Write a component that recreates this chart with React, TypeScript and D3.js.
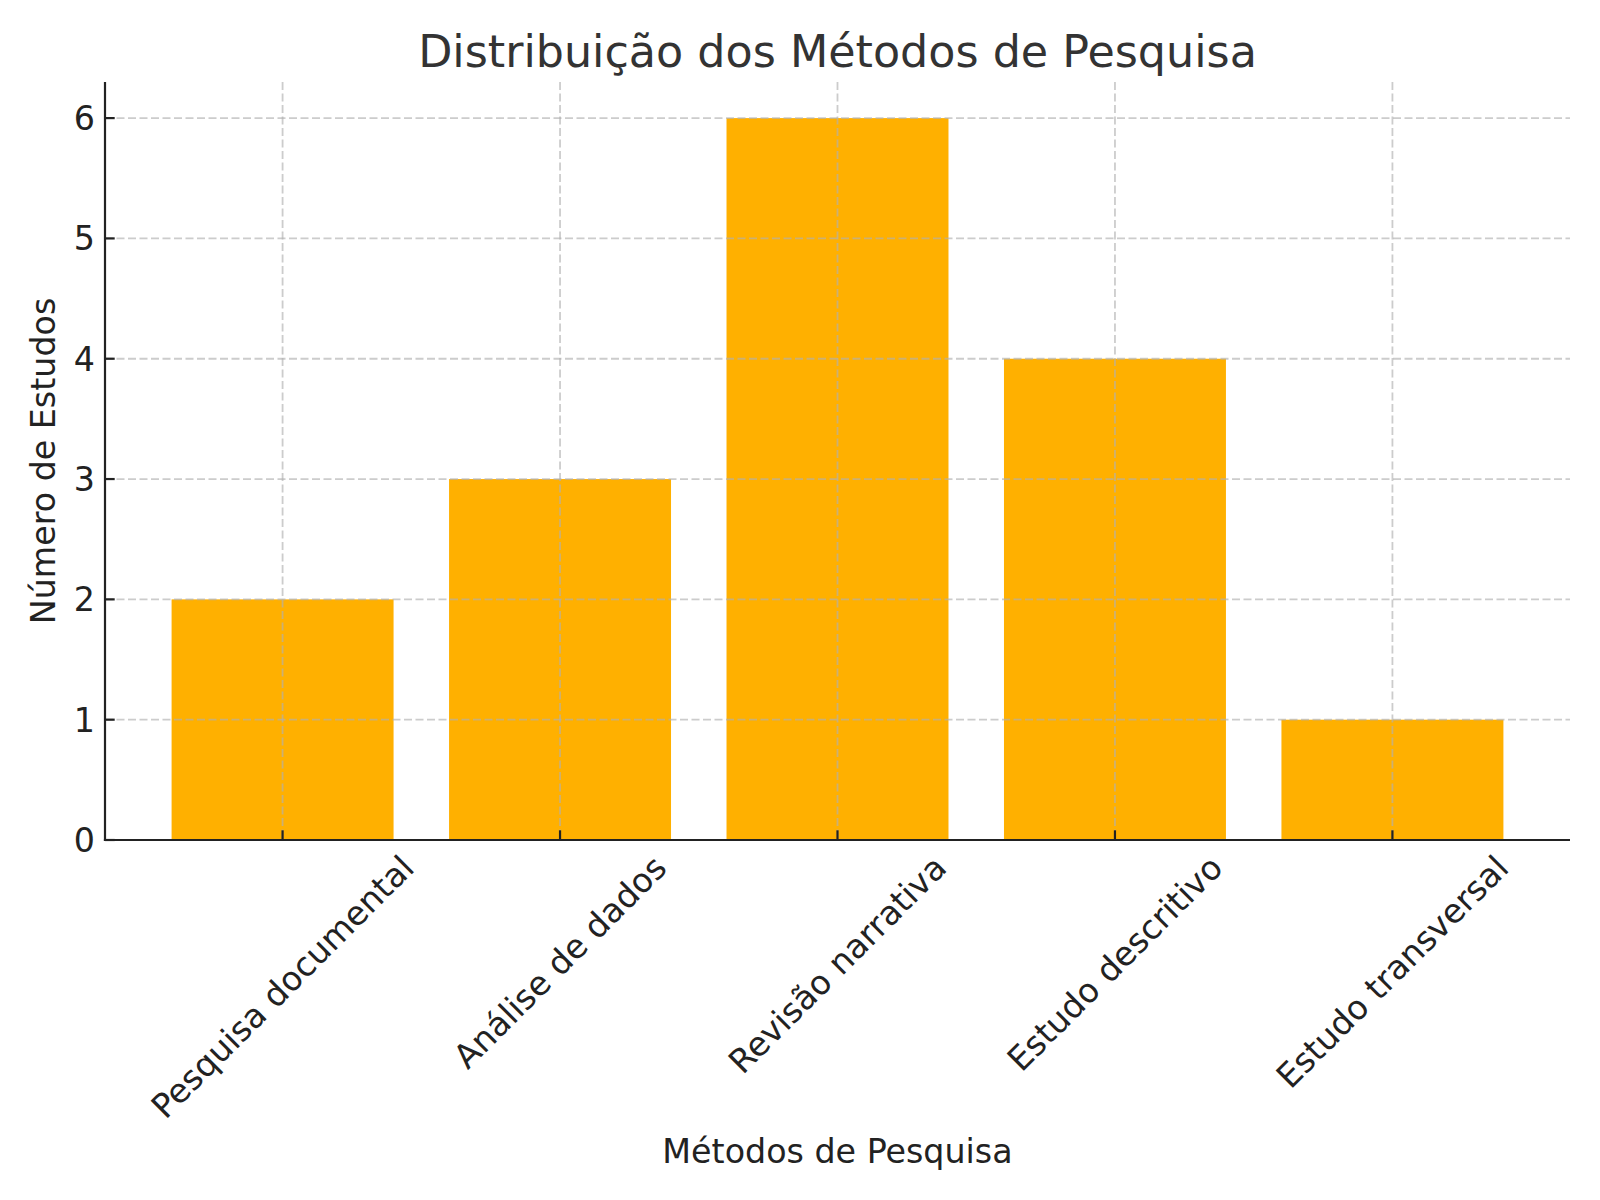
import React, { useEffect, useRef } from "react";
import * as d3 from "d3";

const categories: string[] = [
  "Pesquisa documental",
  "Análise de dados",
  "Revisão narrativa",
  "Estudo descritivo",
  "Estudo transversal",
];
const values: number[] = [2, 3, 6, 4, 1];
const yTicks: number[] = [0, 1, 2, 3, 4, 5, 6];
const titleText = "Distribuição dos Métodos de Pesquisa";
const xLabelText = "Métodos de Pesquisa";
const yLabelText = "Número de Estudos";

const W = 1600;
const H = 1200;
const left = 105;
const right = 1570;
const top = 82;
const bottom = 840;
const FONT = "'DejaVu Sans', sans-serif";

export default function App() {
  const ref = useRef<SVGSVGElement | null>(null);

  useEffect(() => {
    const svg = d3.select(ref.current);
    svg.selectAll("*").remove();

    const n = categories.length;
    const barW = 0.8;
    const span = n - 1 + barW;
    const x = d3
      .scaleLinear()
      .domain([-barW / 2 - 0.05 * span, n - 1 + barW / 2 + 0.05 * span])
      .range([left, right]);
    const yMax = d3.max(values)! * 1.05;
    const y = d3.scaleLinear().domain([0, yMax]).range([bottom, top]);

    svg.append("rect").attr("width", W).attr("height", H).attr("fill", "#fff");

    // bars
    svg
      .append("g")
      .selectAll("rect")
      .data(values)
      .join("rect")
      .attr("x", (_d, i) => x(i - barW / 2))
      .attr("width", (_d, i) => x(i + barW / 2) - x(i - barW / 2))
      .attr("y", (d) => y(d))
      .attr("height", (d) => y(0) - y(d))
      .attr("fill", "#ffb000");

    // grid
    const grid = svg.append("g").attr("stroke", "#b0b0b0").attr("stroke-opacity", 0.65)
      .attr("stroke-width", 1.8).attr("stroke-dasharray", "8,3.5");
    grid
      .selectAll("line.h")
      .data(yTicks)
      .join("line")
      .attr("class", "h")
      .attr("x1", left)
      .attr("x2", right)
      .attr("y1", (d) => y(d))
      .attr("y2", (d) => y(d));
    grid
      .selectAll("line.v")
      .data(categories)
      .join("line")
      .attr("class", "v")
      .attr("x1", (_d, i) => x(i))
      .attr("x2", (_d, i) => x(i))
      .attr("y1", top)
      .attr("y2", bottom);

    // ticks (inward)
    const tickLen = 9.7;
    const ticks = svg.append("g").attr("stroke", "#222").attr("stroke-width", 2.2);
    ticks
      .selectAll("line.yt")
      .data(yTicks)
      .join("line")
      .attr("x1", left)
      .attr("x2", left + tickLen)
      .attr("y1", (d) => y(d))
      .attr("y2", (d) => y(d));
    ticks
      .selectAll("line.xt")
      .data(categories)
      .join("line")
      .attr("x1", (_d, i) => x(i))
      .attr("x2", (_d, i) => x(i))
      .attr("y1", bottom)
      .attr("y2", bottom - tickLen);

    // spines
    svg.append("line").attr("x1", left).attr("x2", left).attr("y1", top).attr("y2", bottom + 1.1)
      .attr("stroke", "#222").attr("stroke-width", 2.2);
    svg.append("line").attr("x1", left - 1.1).attr("x2", right).attr("y1", bottom).attr("y2", bottom)
      .attr("stroke", "#222").attr("stroke-width", 2.2);

    // y tick labels
    svg
      .append("g")
      .selectAll("text")
      .data(yTicks)
      .join("text")
      .attr("x", left - 10)
      .attr("y", (d) => y(d))
      .attr("dy", "0.36em")
      .attr("text-anchor", "end")
      .attr("font-family", FONT)
      .attr("font-size", 33.3)
      .attr("fill", "#222")
      .text((d) => d3.format("d")(d));

    // x tick labels rotated 45, bbox centered on tick
    const fs = 33.3;
    const labelTop = bottom + 10;
    const xl = svg.append("g");
    categories.forEach((c, i) => {
      const t = xl
        .append("text")
        .attr("font-family", FONT)
        .attr("font-size", fs)
        .attr("fill", "#222")
        .attr("text-anchor", "middle")
        .attr("dominant-baseline", "central")
        .text(c);
      const w = (t.node() as SVGTextElement).getComputedTextLength();
      const h = fs * 1.0;
      const half = (w + h) * Math.SQRT1_2 / 2;
      const cx = x(i);
      const cy = labelTop + half;
      t.attr("transform", `translate(${cx},${cy}) rotate(-45)`);
    });

    // axis labels
    svg.append("text")
      .attr("x", (left + right) / 2)
      .attr("y", 1163)
      .attr("text-anchor", "middle")
      .attr("font-family", FONT)
      .attr("font-size", 33.3)
      .attr("fill", "#222")
      .text(xLabelText);

    svg.append("text")
      .attr("transform", `translate(55,${(top + bottom) / 2}) rotate(-90)`)
      .attr("text-anchor", "middle")
      .attr("font-family", FONT)
      .attr("font-size", 33.3)
      .attr("fill", "#222")
      .text(yLabelText);

    // title
    svg.append("text")
      .attr("x", (left + right) / 2)
      .attr("y", 67)
      .attr("text-anchor", "middle")
      .attr("font-family", FONT)
      .attr("font-size", 44.4)
      .attr("fill", "#333")
      .text(titleText);
  }, []);

  return (
    <svg
      ref={ref}
      width={W}
      height={H}
      style={{ display: "block", position: "absolute", left: 0, top: 0 }}
    />
  );
}
